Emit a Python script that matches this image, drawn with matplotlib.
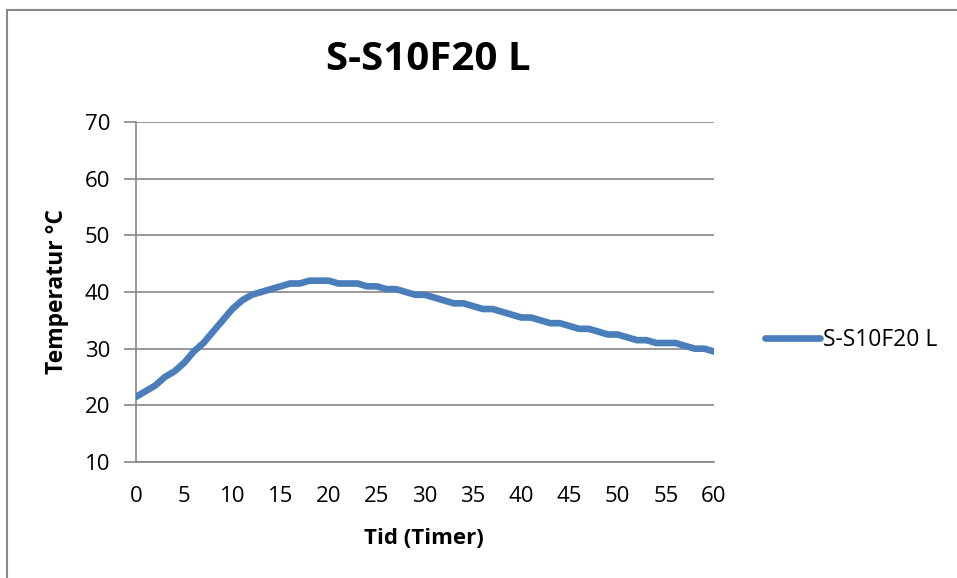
import matplotlib
matplotlib.use("Agg")
import matplotlib.pyplot as plt
from matplotlib.lines import Line2D

plt.rcParams["font.family"] = ["Open Sans", "DejaVu Sans"]

# hourly readings
hours = list(range(0, 61))
temp = [21.5, 22.5, 23.5, 25, 26, 27.5, 29.5, 31, 33, 35,
        37, 38.5, 39.5, 40, 40.5, 41, 41.5, 41.5, 42, 42,
        42, 41.5, 41.5, 41.5, 41, 41, 40.5, 40.5, 40, 39.5,
        39.5, 39, 38.5, 38, 38, 37.5, 37, 37, 36.5, 36,
        35.5, 35.5, 35, 34.5, 34.5, 34, 33.5, 33.5, 33, 32.5,
        32.5, 32, 31.5, 31.5, 31, 31, 31, 30.5, 30, 30,
        29.5]
series_name = "S-S10F20 L"
xticks = list(range(0, 61, 5))
yticks = list(range(10, 71, 10))

W, H = 957, 578
fig = plt.figure(figsize=(W / 100, H / 100), dpi=100)

# chart border: only top and left edges show in the crop
top = 1 - 10 / H
left = 7 / W
fig.add_artist(Line2D([left, 1.0], [top, top], transform=fig.transFigure,
                      color="#868686", linewidth=1.5))
fig.add_artist(Line2D([left, left], [0.0, top], transform=fig.transFigure,
                      color="#868686", linewidth=1.5))

ax = fig.add_axes([136 / W, (H - 462) / H, (714 - 136) / W, (462 - 122) / H])
ax.plot(hours, temp, color="#4A7EBB", linewidth=4.8, solid_capstyle="round",
        solid_joinstyle="round", label=series_name, zorder=3)

ax.set_xlim(0, 60)
ax.set_ylim(10, 70)
ax.set_xticks(xticks)
ax.set_yticks(yticks)
ax.tick_params(axis="x", length=0, pad=17, labelsize=16, colors="black")
ax.tick_params(axis="y", length=8.6, width=1.2, pad=10, labelsize=16, color="#868686")

ax.grid(axis="y", color="#868686", linewidth=1.2, zorder=0)
for s in ["top", "right"]:
    ax.spines[s].set_visible(False)
ax.spines["left"].set_color("#868686")
ax.spines["bottom"].set_color("#868686")
ax.spines["left"].set_linewidth(1.2)
ax.spines["bottom"].set_linewidth(1.2)

fig.text(428 / W, 1 - 60 / H, series_name, ha="center", va="center",
         fontsize=29, fontweight="bold")
fig.text(424 / W, 1 - 538 / H, "Tid (Timer)", ha="center", va="center",
         fontsize=16, fontweight="bold")
fig.text(57 / W, 1 - 292 / H, "Temperatur °C", ha="center", va="center",
         rotation=90, fontsize=16.5, fontweight="bold")

leg = ax.legend(loc="center left", bbox_to_anchor=(765 / W, 1 - 340 / H),
                bbox_transform=fig.transFigure, frameon=False, fontsize=16.5,
                handlelength=2.4, handletextpad=0.15, borderaxespad=0, borderpad=0)

fig.savefig("out.png", dpi=100)
